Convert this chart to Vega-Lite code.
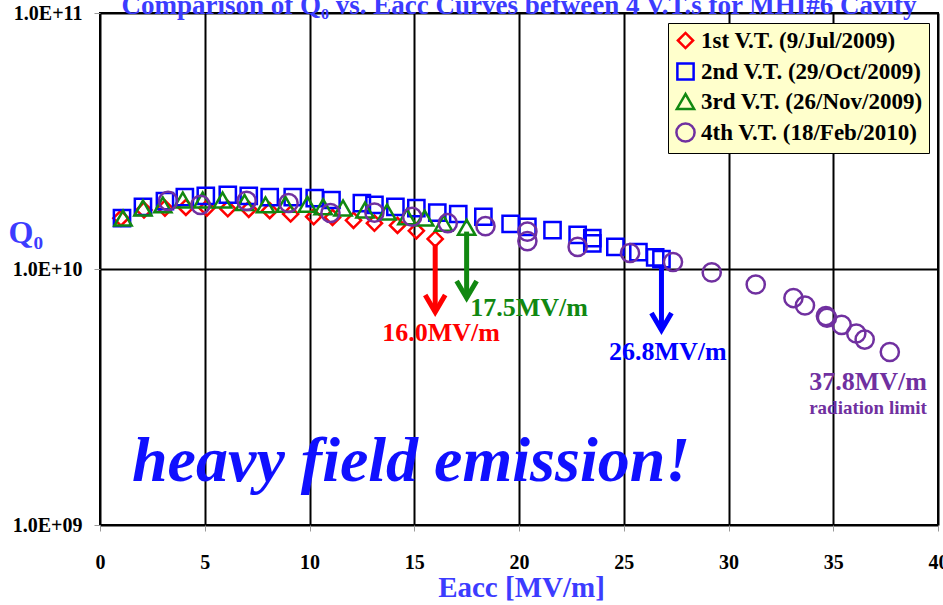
{
  "$schema": "https://vega.github.io/schema/vega-lite/v6.json",
  "width": 838,
  "height": 512,
  "autosize": {"type": "none"},
  "padding": {"left": 100, "top": 13, "right": 5, "bottom": 80},
  "background": "white",
  "title": {
    "text": "Comparison of Q₀ vs. Eacc Curves between 4 V.T.s for MHI#6 Cavity",
    "frame": "group", "anchor": "middle", "baseline": "alphabetic", "offset": 0, "dy": 38,
    "font": "Liberation Serif", "fontSize": 27, "fontWeight": "bold", "color": "#3c3cff"
  },
  "config": {
    "font": "Liberation Serif",
    "view": {"stroke": "black", "strokeWidth": 2}
  },
  "datasets": {
    "vt": [
      {"E": 1.0, "Q": 1.58e10, "series": "1st V.T. (9/Jul/2009)"},
      {"E": 2.1, "Q": 1.70e10, "series": "1st V.T. (9/Jul/2009)"},
      {"E": 3.1, "Q": 1.73e10, "series": "1st V.T. (9/Jul/2009)"},
      {"E": 4.1, "Q": 1.74e10, "series": "1st V.T. (9/Jul/2009)"},
      {"E": 5.1, "Q": 1.73e10, "series": "1st V.T. (9/Jul/2009)"},
      {"E": 6.1, "Q": 1.72e10, "series": "1st V.T. (9/Jul/2009)"},
      {"E": 7.1, "Q": 1.71e10, "series": "1st V.T. (9/Jul/2009)"},
      {"E": 8.1, "Q": 1.69e10, "series": "1st V.T. (9/Jul/2009)"},
      {"E": 9.1, "Q": 1.64e10, "series": "1st V.T. (9/Jul/2009)"},
      {"E": 10.2, "Q": 1.60e10, "series": "1st V.T. (9/Jul/2009)"},
      {"E": 11.1, "Q": 1.59e10, "series": "1st V.T. (9/Jul/2009)"},
      {"E": 12.1, "Q": 1.55e10, "series": "1st V.T. (9/Jul/2009)"},
      {"E": 13.1, "Q": 1.51e10, "series": "1st V.T. (9/Jul/2009)"},
      {"E": 14.2, "Q": 1.48e10, "series": "1st V.T. (9/Jul/2009)"},
      {"E": 15.1, "Q": 1.41e10, "series": "1st V.T. (9/Jul/2009)"},
      {"E": 16.0, "Q": 1.31e10, "series": "1st V.T. (9/Jul/2009)"},
      {"E": 1.05, "Q": 1.58e10, "series": "2nd V.T. (29/Oct/2009)"},
      {"E": 2.05, "Q": 1.75e10, "series": "2nd V.T. (29/Oct/2009)"},
      {"E": 3.1, "Q": 1.84e10, "series": "2nd V.T. (29/Oct/2009)"},
      {"E": 4.05, "Q": 1.91e10, "series": "2nd V.T. (29/Oct/2009)"},
      {"E": 5.05, "Q": 1.93e10, "series": "2nd V.T. (29/Oct/2009)"},
      {"E": 6.1, "Q": 1.95e10, "series": "2nd V.T. (29/Oct/2009)"},
      {"E": 7.1, "Q": 1.93e10, "series": "2nd V.T. (29/Oct/2009)"},
      {"E": 8.1, "Q": 1.91e10, "series": "2nd V.T. (29/Oct/2009)"},
      {"E": 9.2, "Q": 1.91e10, "series": "2nd V.T. (29/Oct/2009)"},
      {"E": 10.25, "Q": 1.89e10, "series": "2nd V.T. (29/Oct/2009)"},
      {"E": 11.05, "Q": 1.86e10, "series": "2nd V.T. (29/Oct/2009)"},
      {"E": 12.5, "Q": 1.81e10, "series": "2nd V.T. (29/Oct/2009)"},
      {"E": 13.1, "Q": 1.78e10, "series": "2nd V.T. (29/Oct/2009)"},
      {"E": 14.1, "Q": 1.75e10, "series": "2nd V.T. (29/Oct/2009)"},
      {"E": 15.1, "Q": 1.73e10, "series": "2nd V.T. (29/Oct/2009)"},
      {"E": 16.1, "Q": 1.66e10, "series": "2nd V.T. (29/Oct/2009)"},
      {"E": 17.1, "Q": 1.64e10, "series": "2nd V.T. (29/Oct/2009)"},
      {"E": 18.3, "Q": 1.60e10, "series": "2nd V.T. (29/Oct/2009)"},
      {"E": 19.6, "Q": 1.50e10, "series": "2nd V.T. (29/Oct/2009)"},
      {"E": 20.4, "Q": 1.46e10, "series": "2nd V.T. (29/Oct/2009)"},
      {"E": 21.6, "Q": 1.42e10, "series": "2nd V.T. (29/Oct/2009)"},
      {"E": 22.8, "Q": 1.36e10, "series": "2nd V.T. (29/Oct/2009)"},
      {"E": 23.5, "Q": 1.32e10, "series": "2nd V.T. (29/Oct/2009)"},
      {"E": 23.5, "Q": 1.26e10, "series": "2nd V.T. (29/Oct/2009)"},
      {"E": 24.6, "Q": 1.22e10, "series": "2nd V.T. (29/Oct/2009)"},
      {"E": 25.7, "Q": 1.165e10, "series": "2nd V.T. (29/Oct/2009)"},
      {"E": 26.5, "Q": 1.11e10, "series": "2nd V.T. (29/Oct/2009)"},
      {"E": 26.8, "Q": 1.094e10, "series": "2nd V.T. (29/Oct/2009)"},
      {"E": 1.1, "Q": 1.58e10, "series": "3rd V.T. (26/Nov/2009)"},
      {"E": 2.05, "Q": 1.73e10, "series": "3rd V.T. (26/Nov/2009)"},
      {"E": 3.0, "Q": 1.78e10, "series": "3rd V.T. (26/Nov/2009)"},
      {"E": 3.95, "Q": 1.86e10, "series": "3rd V.T. (26/Nov/2009)"},
      {"E": 4.9, "Q": 1.86e10, "series": "3rd V.T. (26/Nov/2009)"},
      {"E": 5.85, "Q": 1.86e10, "series": "3rd V.T. (26/Nov/2009)"},
      {"E": 6.9, "Q": 1.82e10, "series": "3rd V.T. (26/Nov/2009)"},
      {"E": 7.9, "Q": 1.78e10, "series": "3rd V.T. (26/Nov/2009)"},
      {"E": 8.85, "Q": 1.79e10, "series": "3rd V.T. (26/Nov/2009)"},
      {"E": 9.9, "Q": 1.79e10, "series": "3rd V.T. (26/Nov/2009)"},
      {"E": 10.65, "Q": 1.75e10, "series": "3rd V.T. (26/Nov/2009)"},
      {"E": 11.6, "Q": 1.73e10, "series": "3rd V.T. (26/Nov/2009)"},
      {"E": 12.65, "Q": 1.70e10, "series": "3rd V.T. (26/Nov/2009)"},
      {"E": 13.7, "Q": 1.67e10, "series": "3rd V.T. (26/Nov/2009)"},
      {"E": 14.65, "Q": 1.60e10, "series": "3rd V.T. (26/Nov/2009)"},
      {"E": 15.5, "Q": 1.58e10, "series": "3rd V.T. (26/Nov/2009)"},
      {"E": 16.4, "Q": 1.51e10, "series": "3rd V.T. (26/Nov/2009)"},
      {"E": 17.5, "Q": 1.455e10, "series": "3rd V.T. (26/Nov/2009)"},
      {"E": 3.25, "Q": 1.845e10, "series": "4th V.T. (18/Feb/2010)"},
      {"E": 4.8, "Q": 1.78e10, "series": "4th V.T. (18/Feb/2010)"},
      {"E": 7.0, "Q": 1.845e10, "series": "4th V.T. (18/Feb/2010)"},
      {"E": 9.0, "Q": 1.81e10, "series": "4th V.T. (18/Feb/2010)"},
      {"E": 11.0, "Q": 1.655e10, "series": "4th V.T. (18/Feb/2010)"},
      {"E": 13.1, "Q": 1.66e10, "series": "4th V.T. (18/Feb/2010)"},
      {"E": 14.9, "Q": 1.60e10, "series": "4th V.T. (18/Feb/2010)"},
      {"E": 16.6, "Q": 1.51e10, "series": "4th V.T. (18/Feb/2010)"},
      {"E": 18.4, "Q": 1.47e10, "series": "4th V.T. (18/Feb/2010)"},
      {"E": 20.4, "Q": 1.40e10, "series": "4th V.T. (18/Feb/2010)"},
      {"E": 20.4, "Q": 1.285e10, "series": "4th V.T. (18/Feb/2010)"},
      {"E": 22.8, "Q": 1.22e10, "series": "4th V.T. (18/Feb/2010)"},
      {"E": 25.3, "Q": 1.155e10, "series": "4th V.T. (18/Feb/2010)"},
      {"E": 27.35, "Q": 1.065e10, "series": "4th V.T. (18/Feb/2010)"},
      {"E": 29.2, "Q": 0.97e10, "series": "4th V.T. (18/Feb/2010)"},
      {"E": 31.3, "Q": 0.87e10, "series": "4th V.T. (18/Feb/2010)"},
      {"E": 33.1, "Q": 0.77e10, "series": "4th V.T. (18/Feb/2010)"},
      {"E": 33.65, "Q": 0.72e10, "series": "4th V.T. (18/Feb/2010)"},
      {"E": 34.65, "Q": 0.655e10, "series": "4th V.T. (18/Feb/2010)"},
      {"E": 34.7, "Q": 0.645e10, "series": "4th V.T. (18/Feb/2010)"},
      {"E": 35.4, "Q": 0.605e10, "series": "4th V.T. (18/Feb/2010)"},
      {"E": 36.1, "Q": 0.56e10, "series": "4th V.T. (18/Feb/2010)"},
      {"E": 36.5, "Q": 0.53e10, "series": "4th V.T. (18/Feb/2010)"},
      {"E": 37.7, "Q": 0.474e10, "series": "4th V.T. (18/Feb/2010)"}
    ],
    "arrows": [
      {"E": 16.0, "top": 1.25e10, "tip": 6.79e9, "run": "1st"},
      {"E": 17.5, "top": 1.40e10, "tip": 7.71e9, "run": "3rd"},
      {"E": 26.8, "top": 1.037e10, "tip": 5.78e9, "run": "2nd"}
    ],
    "limits": [
      {"E": 16.28, "Q": 5.62e9, "text": "16.0MV/m", "run": "1st"},
      {"E": 20.48, "Q": 7.05e9, "text": "17.5MV/m", "run": "3rd"},
      {"E": 27.1, "Q": 4.74e9, "text": "26.8MV/m", "run": "2nd"},
      {"E": 36.66, "Q": 3.62e9, "text": "37.8MV/m", "run": "4th"}
    ],
    "notes": [
      {"E": 36.66, "Q": 2.87e9, "text": "radiation limit"}
    ],
    "headline": [
      {"E": 14.85, "Q": 1.76e9, "text": "heavy field emission!"}
    ]
  },
  "layer": [
    {
      "data": {"name": "vt"},
      "mark": {"type": "point", "filled": false, "strokeWidth": 2.5, "opacity": 1},
      "encoding": {
        "x": {
          "field": "E", "type": "quantitative",
          "scale": {"domain": [0, 40], "nice": false, "zero": false},
          "axis": {
            "values": [0, 5, 10, 15, 20, 25, 30, 35, 40],
            "grid": true, "gridColor": "black", "gridWidth": 2, "gridOpacity": 1,
            "domain": false, "ticks": true, "tickColor": "#999999", "tickSize": 6,
            "labelFont": "Liberation Serif", "labelFontSize": 20, "labelFontWeight": "bold",
            "labelColor": "black", "labelPadding": 21, "labelFlush": false,
            "title": "Eacc [MV/m]", "titleFont": "Liberation Serif", "titleFontSize": 29,
            "titleFontWeight": "bold", "titleColor": "#3c3cff",
            "titleBaseline": "alphabetic", "titleY": 71, "titleX": 421
          }
        },
        "y": {
          "field": "Q", "type": "quantitative",
          "scale": {"type": "log", "domain": [1e9, 1e11], "nice": false},
          "axis": {
            "values": [1e9, 1e10, 1e11],
            "labelExpr": "datum.value >= 5e10 ? '1.0E+11' : (datum.value >= 5e9 ? '1.0E+10' : '1.0E+09')",
            "grid": true, "gridColor": "black", "gridWidth": 2, "gridOpacity": 1,
            "domain": false, "ticks": true, "tickColor": "#999999", "tickSize": 6,
            "labelFont": "Liberation Serif", "labelFontSize": 20, "labelFontWeight": "bold",
            "labelColor": "black", "labelPadding": 12, "labelFlush": false,
            "title": "Q₀", "titleFont": "Liberation Serif", "titleFontSize": 32,
            "titleFontWeight": "bold", "titleColor": "#3c3cff", "titleAngle": 0,
            "titleAlign": "left", "titleBaseline": "alphabetic", "titleX": -92, "titleY": 229
          }
        },
        "color": {
          "field": "series", "type": "nominal",
          "scale": {
            "domain": ["1st V.T. (9/Jul/2009)", "2nd V.T. (29/Oct/2009)", "3rd V.T. (26/Nov/2009)", "4th V.T. (18/Feb/2010)"],
            "range": ["#ff0000", "#0000ff", "#118811", "#7030a0"]
          },
          "legend": {
            "title": null, "orient": "none", "legendX": 568, "legendY": 10,
            "fillColor": "#ffffcc", "strokeColor": "black", "padding": 6,
            "labelFont": "Liberation Serif", "labelFontSize": 23, "labelFontWeight": "bold",
            "labelLimit": 0, "labelOffset": 4, "rowPadding": 4,
            "symbolSize": 130, "symbolStrokeWidth": 2.5, "symbolFillColor": "transparent",
            "symbolOpacity": 1,
            "encode": {
              "labels": {"update": {"fill": {"scale": "color", "field": "value"}}},
              "legend": {"update": {"strokeWidth": {"value": 1.5}}}
            }
          }
        },
        "shape": {
          "field": "series", "type": "nominal",
          "scale": {
            "domain": ["1st V.T. (9/Jul/2009)", "2nd V.T. (29/Oct/2009)", "3rd V.T. (26/Nov/2009)", "4th V.T. (18/Feb/2010)"],
            "range": ["diamond", "square", "triangle-up", "circle"]
          }
        },
        "size": {
          "field": "series", "type": "nominal",
          "scale": {
            "domain": ["1st V.T. (9/Jul/2009)", "2nd V.T. (29/Oct/2009)", "3rd V.T. (26/Nov/2009)", "4th V.T. (18/Feb/2010)"],
            "range": [230, 330, 230, 190]
          },
          "legend": null
        }
      }
    },
    {
      "data": {"name": "arrows"},
      "transform": [{"filter": "datum.run == '1st'"}],
      "layer": [
        {"mark": {"type": "rule", "strokeWidth": 5, "strokeCap": "butt", "color": "#ff0000"},
         "encoding": {"x": {"field": "E", "type": "quantitative"}, "y": {"field": "top", "type": "quantitative"}, "y2": {"field": "tip"}}},
        {"mark": {"type": "point", "shape": "M-1,-1.7L0,0L1,-1.7", "filled": false, "size": 400, "strokeWidth": 5, "color": "#ff0000", "opacity": 1},
         "encoding": {"x": {"field": "E", "type": "quantitative"}, "y": {"field": "tip", "type": "quantitative"}}}
      ]
    },
    {
      "data": {"name": "arrows"},
      "transform": [{"filter": "datum.run == '3rd'"}],
      "layer": [
        {"mark": {"type": "rule", "strokeWidth": 5, "strokeCap": "butt", "color": "#118811"},
         "encoding": {"x": {"field": "E", "type": "quantitative"}, "y": {"field": "top", "type": "quantitative"}, "y2": {"field": "tip"}}},
        {"mark": {"type": "point", "shape": "M-1,-1.7L0,0L1,-1.7", "filled": false, "size": 400, "strokeWidth": 5, "color": "#118811", "opacity": 1},
         "encoding": {"x": {"field": "E", "type": "quantitative"}, "y": {"field": "tip", "type": "quantitative"}}}
      ]
    },
    {
      "data": {"name": "arrows"},
      "transform": [{"filter": "datum.run == '2nd'"}],
      "layer": [
        {"mark": {"type": "rule", "strokeWidth": 5, "strokeCap": "butt", "color": "#0000ff"},
         "encoding": {"x": {"field": "E", "type": "quantitative"}, "y": {"field": "top", "type": "quantitative"}, "y2": {"field": "tip"}}},
        {"mark": {"type": "point", "shape": "M-1,-1.7L0,0L1,-1.7", "filled": false, "size": 400, "strokeWidth": 5, "color": "#0000ff", "opacity": 1},
         "encoding": {"x": {"field": "E", "type": "quantitative"}, "y": {"field": "tip", "type": "quantitative"}}}
      ]
    },
    {
      "data": {"name": "limits"},
      "transform": [{"filter": "datum.run == '1st'"}],
      "mark": {"type": "text", "font": "Liberation Serif", "fontSize": 26, "fontWeight": "bold", "align": "center", "baseline": "middle", "color": "#ff0000"},
      "encoding": {"x": {"field": "E", "type": "quantitative"}, "y": {"field": "Q", "type": "quantitative"}, "text": {"field": "text"}}
    },
    {
      "data": {"name": "limits"},
      "transform": [{"filter": "datum.run == '2nd'"}],
      "mark": {"type": "text", "font": "Liberation Serif", "fontSize": 26, "fontWeight": "bold", "align": "center", "baseline": "middle", "color": "#0000ff"},
      "encoding": {"x": {"field": "E", "type": "quantitative"}, "y": {"field": "Q", "type": "quantitative"}, "text": {"field": "text"}}
    },
    {
      "data": {"name": "limits"},
      "transform": [{"filter": "datum.run == '3rd'"}],
      "mark": {"type": "text", "font": "Liberation Serif", "fontSize": 26, "fontWeight": "bold", "align": "center", "baseline": "middle", "color": "#118811"},
      "encoding": {"x": {"field": "E", "type": "quantitative"}, "y": {"field": "Q", "type": "quantitative"}, "text": {"field": "text"}}
    },
    {
      "data": {"name": "limits"},
      "transform": [{"filter": "datum.run == '4th'"}],
      "mark": {"type": "text", "font": "Liberation Serif", "fontSize": 26, "fontWeight": "bold", "align": "center", "baseline": "middle", "color": "#7030a0"},
      "encoding": {"x": {"field": "E", "type": "quantitative"}, "y": {"field": "Q", "type": "quantitative"}, "text": {"field": "text"}}
    },
    {
      "data": {"name": "notes"},
      "mark": {"type": "text", "font": "Liberation Serif", "fontSize": 19, "fontWeight": "bold", "align": "center", "baseline": "middle", "color": "#7030a0"},
      "encoding": {"x": {"field": "E", "type": "quantitative"}, "y": {"field": "Q", "type": "quantitative"}, "text": {"field": "text"}}
    },
    {
      "data": {"name": "headline"},
      "mark": {"type": "text", "font": "Liberation Serif", "fontSize": 64, "fontWeight": "bold", "fontStyle": "italic", "align": "center", "baseline": "middle", "color": "#1010ff"},
      "encoding": {"x": {"field": "E", "type": "quantitative"}, "y": {"field": "Q", "type": "quantitative"}, "text": {"field": "text"}}
    }
  ]
}
